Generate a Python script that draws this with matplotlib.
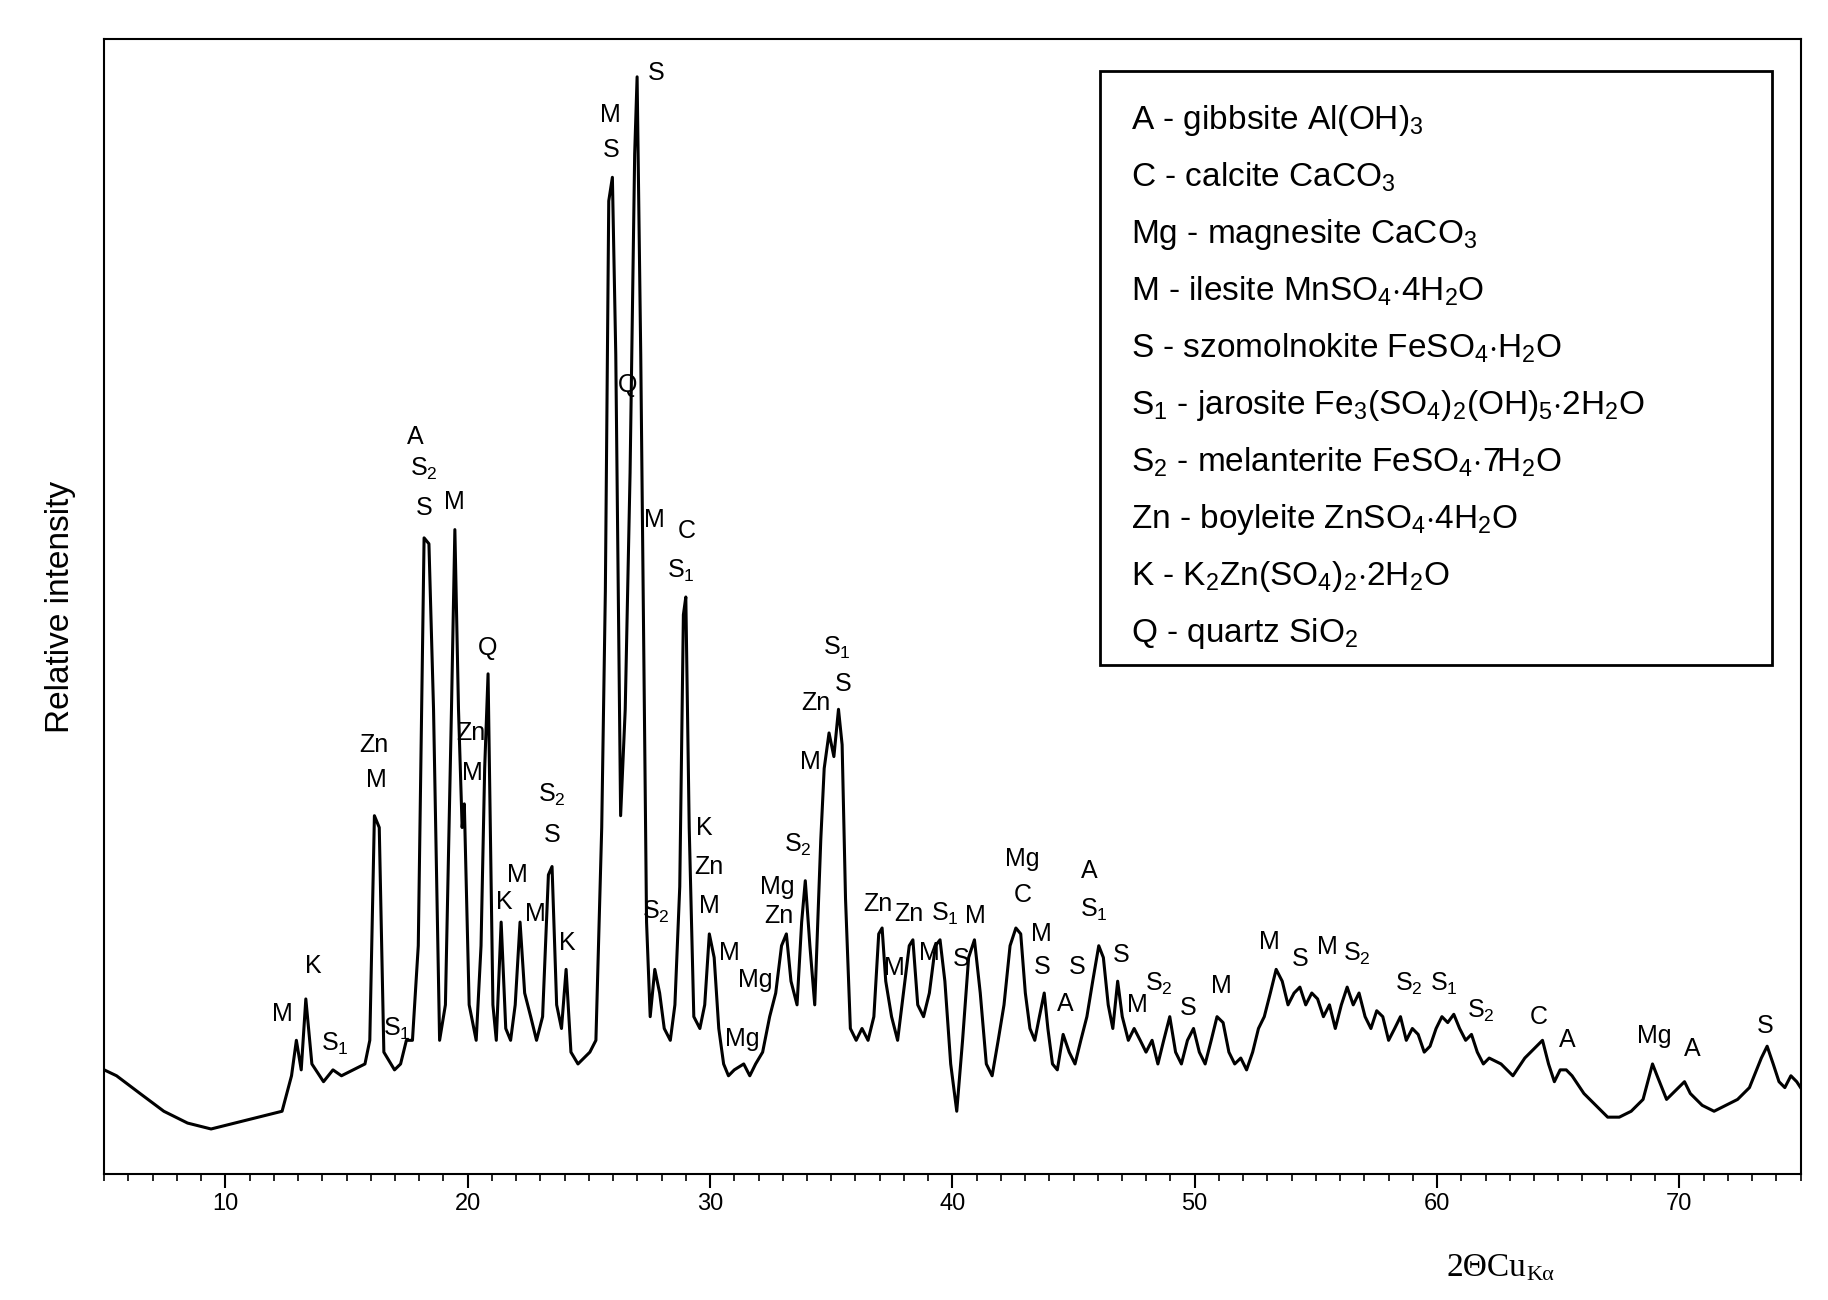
import matplotlib
matplotlib.use("Agg")
import matplotlib.pyplot as plt
from matplotlib.patches import Rectangle

two_theta = [5.0,5.51,6.48,7.46,8.44,9.41,10.39,11.37,12.34,12.73,12.93,13.13,13.32,13.57,14.05,14.44,14.79,15.28,15.76,15.96,16.15,16.35,16.54,16.98,17.23,17.47,17.72,17.96,18.20,18.40,18.59,18.84,19.08,19.33,19.47,19.62,19.77,19.86,20.06,20.35,20.55,20.70,20.84,21.04,21.18,21.38,21.57,21.77,21.96,22.16,22.35,22.60,22.84,23.09,23.33,23.48,23.67,23.87,24.06,24.26,24.55,25.04,25.29,25.53,25.68,25.82,25.97,26.11,26.31,26.50,26.70,26.89,26.99,27.14,27.24,27.38,27.53,27.72,27.92,28.11,28.36,28.55,28.75,28.90,29.00,29.14,29.33,29.58,29.78,29.97,30.17,30.36,30.56,30.76,31.00,31.39,31.64,31.88,32.17,32.46,32.71,32.95,33.15,33.34,33.59,33.78,33.93,34.12,34.32,34.57,34.71,34.91,35.11,35.30,35.45,35.59,35.79,36.03,36.27,36.52,36.76,36.96,37.10,37.25,37.49,37.74,37.98,38.22,38.37,38.57,38.81,39.05,39.30,39.49,39.69,39.93,40.18,40.42,40.67,40.91,41.15,41.40,41.64,41.89,42.13,42.38,42.62,42.82,43.01,43.20,43.40,43.59,43.79,43.94,44.13,44.33,44.57,44.82,45.06,45.30,45.55,45.79,46.04,46.23,46.43,46.62,46.82,47.01,47.26,47.50,47.75,47.99,48.24,48.48,48.72,48.97,49.21,49.45,49.70,49.95,50.19,50.43,50.68,50.92,51.17,51.41,51.65,51.90,52.14,52.39,52.63,52.87,53.12,53.36,53.61,53.85,54.10,54.34,54.58,54.83,55.07,55.31,55.56,55.80,56.05,56.29,56.54,56.78,57.03,57.27,57.51,57.76,58.00,58.25,58.49,58.73,58.98,59.22,59.47,59.71,59.96,60.20,60.44,60.69,60.93,61.18,61.42,61.66,61.91,62.15,62.64,63.13,63.62,64.11,64.35,64.60,64.84,65.08,65.33,65.57,66.06,66.55,67.04,67.52,68.01,68.50,68.89,69.08,69.47,69.96,70.21,70.45,70.94,71.43,71.91,72.40,72.89,73.38,73.62,73.87,74.11,74.35,74.60,74.84,75.0]
intensity = [88,83,68,53,43,38,43,48,53,83,113,88,148,93,78,88,83,88,93,113,303,293,103,88,93,113,113,193,538,533,393,113,143,393,545,393,293,313,143,113,193,343,423,143,113,213,123,113,143,213,153,133,113,133,253,260,143,123,173,103,93,103,113,293,493,823,843,693,303,393,593,863,928,693,493,213,133,173,153,123,113,143,243,473,488,293,133,123,143,203,183,123,93,83,88,93,83,93,103,133,153,193,203,163,143,213,248,193,143,283,343,373,353,393,363,233,123,113,123,113,133,203,208,163,133,113,153,193,198,143,133,153,193,198,163,93,53,113,183,198,153,93,83,113,143,193,208,203,153,123,113,133,153,123,93,88,118,103,93,113,133,163,193,183,143,123,163,133,113,123,113,103,113,93,113,133,103,93,113,123,103,93,113,133,128,103,93,98,88,103,123,133,153,173,163,143,153,158,143,153,148,133,143,123,143,158,143,153,133,123,138,133,113,123,133,113,123,118,103,108,123,133,128,135,123,113,118,103,93,98,93,83,98,108,113,93,78,88,88,83,68,58,48,48,53,63,93,83,63,73,78,68,58,53,58,63,73,98,108,93,78,73,83,78,73]

labels = ["M","K","S$_1$","Zn","M","S$_1$","A","S$_2$","S","M","Q","Zn","M","M","K","M","S$_2$","S","K","M","S","S","Q","M","C","S$_1$","S$_2$","K","Zn","M","M","Mg","Mg","Mg","Zn","S$_2$","M","Zn","S$_1$","S","Zn","M","Zn","M","S$_1$","M","S","Mg","C","M","S","A","S","A","S$_1$","S","M","S$_2$","S","M","M","S","M","S$_2$","S$_2$","S$_1$","S$_2$","C","A","Mg","A","S"]
label_x = [12.34,13.62,14.54,16.11,16.25,17.08,17.82,18.20,18.20,19.47,20.84,20.15,20.20,22.06,21.52,22.79,23.48,23.48,24.11,25.87,25.92,27.77,26.60,27.72,29.04,28.80,27.77,29.78,29.97,29.97,30.80,31.88,31.34,32.76,32.86,33.64,34.12,34.37,35.25,35.50,36.91,37.59,38.22,39.05,39.69,40.96,40.37,42.87,42.92,43.69,43.69,44.67,45.16,45.64,45.84,46.96,47.64,48.53,49.75,51.12,53.07,54.34,55.46,56.68,58.83,60.29,61.80,64.2,65.37,68.98,70.54,73.52]
label_y = [135,176,110,363,333,123,623,596,563,568,445,373,339,253,230,220,321,287,195,896,866,931,667,553,544,510,222,293,260,227,187,164,114,243,218,278,348,398,445,414,228,174,220,187,220,218,182,266,236,203,175,144,175,256,223,185,143,161,140,159,196,182,192,186,161,161,138,133,113,117,106,125]

legend_lines = ["A - gibbsite Al(OH)$_3$", "C - calcite CaCO$_3$", "Mg - magnesite CaCO$_3$",
                "M - ilesite MnSO$_4$$\\cdot$4H$_2$O", "S - szomolnokite FeSO$_4$$\\cdot$H$_2$O",
                "S$_1$ - jarosite Fe$_3$(SO$_4$)$_2$(OH)$_5$$\\cdot$2H$_2$O",
                "S$_2$ - melanterite FeSO$_4$$\\cdot$7H$_2$O", "Zn - boyleite ZnSO$_4$$\\cdot$4H$_2$O",
                "K - K$_2$Zn(SO$_4$)$_2$$\\cdot$2H$_2$O", "Q - quartz SiO$_2$"]

plt.rcParams['font.family'] = ['Liberation Sans', 'DejaVu Sans']
plt.rcParams['mathtext.fontset'] = 'custom'
plt.rcParams['mathtext.rm'] = 'Liberation Sans'
plt.rcParams['mathtext.it'] = 'Liberation Sans'

fig = plt.figure(figsize=(18.28, 13), dpi=100)
ax = fig.add_axes([0.057, 0.097, 0.928, 0.873])
ax.plot(two_theta, intensity, color='black', lw=2.2)
ax.set_xlim(5, 75)
ax.set_ylim(0, 960)
ax.set_yticks([])
ax.set_xticks(range(10, 71, 10))
ax.set_xticks(range(5, 76, 1), minor=True)
ax.tick_params(axis='x', which='major', length=10, width=1.5, labelsize=17, direction='out')
ax.tick_params(axis='x', which='minor', length=5, width=1.2)
for s in ax.spines.values():
    s.set_linewidth(1.5)

for t, x, y in zip(labels, label_x, label_y):
    ax.text(x, y, t, ha='center', va='center', fontsize=18)

ax.set_ylabel("Relative intensity", fontsize=24, labelpad=20)
fig.text(0.835, 0.025, "2\u0398Cu", fontsize=24, family='Liberation Serif', ha='right', va='center')
fig.text(0.835, 0.019, "K\u03b1", fontsize=16, family='Liberation Serif', ha='left', va='center')

ax.add_patch(Rectangle((0.587, 0.448), 0.396, 0.524, transform=ax.transAxes,
                       fill=False, lw=2, ec='black'))
for i, line in enumerate(legend_lines):
    ax.text(0.605, 0.928 - i * 0.0502, line, transform=ax.transAxes, fontsize=24, va='center')

fig.savefig("out.png", dpi=100)
